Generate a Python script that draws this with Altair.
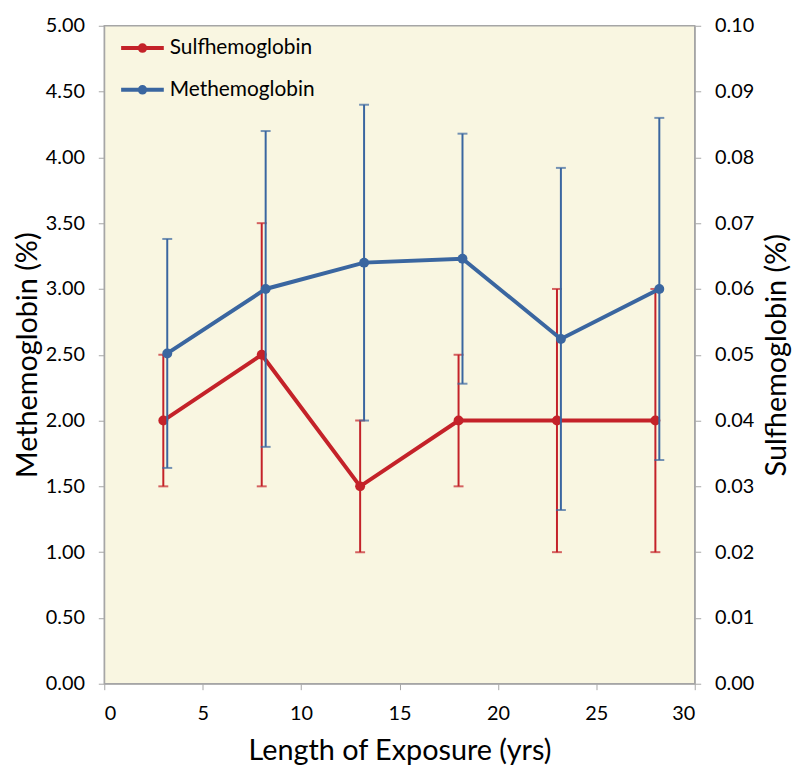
import altair as alt
import pandas as pd

# Data
sulf_x = [3, 8, 13, 18, 23, 28]
sulf_y = [0.04, 0.05, 0.03, 0.04, 0.04, 0.04]
sulf_lo = [0.03, 0.03, 0.02, 0.03, 0.02, 0.02]
sulf_hi = [0.05, 0.07, 0.04, 0.05, 0.06, 0.06]

met_x = [3.2, 8.2, 13.2, 18.2, 23.2, 28.2]
met_y = [2.51, 3.00, 3.20, 3.23, 2.62, 3.00]
met_lo = [1.64, 1.80, 2.00, 2.28, 1.32, 1.70]
met_hi = [3.38, 4.20, 4.40, 4.18, 3.92, 4.30]

series_names = ["Sulfhemoglobin", "Methemoglobin"]
series_colors = ["#C42229", "#3A66A0"]

sulf = pd.DataFrame({"x": sulf_x, "y": sulf_y, "lo": sulf_lo, "hi": sulf_hi,
                     "series": series_names[0]})
met = pd.DataFrame({"x": met_x, "y": met_y, "lo": met_lo, "hi": met_hi,
                    "series": series_names[1]})

FONT = "Lato"
AXIS_GRAY = "#A6A6A6"
LABEL_SIZE = 20
TITLE_SIZE = 29

xscale = alt.Scale(domain=[0, 30], nice=False)
xaxis = alt.Axis(title="Length of Exposure (yrs)", values=list(range(0, 31, 5)),
                 grid=False, titleFontSize=TITLE_SIZE, labelFontSize=LABEL_SIZE,
                 titleFontWeight="normal",
                 labelPadding=14, titlePadding=13, tickSize=6, domainColor=AXIS_GRAY,
                 tickColor=AXIS_GRAY, labelColor="#000000", titleColor="#000000")

legend_path = ("M-1,0L1,0M-0.13,0A0.13,0.13 0 1,1 0.13,0A0.13,0.13 0 1,1 -0.13,0Z")
color = alt.Color("series:N",
                  scale=alt.Scale(domain=series_names, range=series_colors),
                  legend=alt.Legend(title=None, orient="none", legendX=15, legendY=-1,
                                    symbolType=legend_path, symbolSize=1849,
                                    symbolStrokeWidth=4, symbolOpacity=1,
                                    labelFontSize=21,
                                    labelFont=FONT, labelColor="#000000",
                                    rowPadding=7, labelOffset=4))

# Sulfhemoglobin (right axis)
s_yscale = alt.Scale(domain=[0, 0.1], nice=False)
s_yaxis = alt.Axis(title="Sulfhemoglobin (%)", orient="right", format=".2f",
                   values=[i / 100 for i in range(0, 11)], grid=False,
                   titleFontSize=TITLE_SIZE, labelFontSize=LABEL_SIZE,
                   titleFontWeight="normal",
                   titleAngle=270, titleBaseline="top",
                   labelPadding=14, titlePadding=9, tickSize=6,
                   domainColor=AXIS_GRAY, tickColor=AXIS_GRAY,
                   labelColor="#000000", titleColor="#000000")

s_base = alt.Chart(sulf)
s_rule = s_base.mark_rule(strokeWidth=2).encode(
    x=alt.X("x:Q", scale=xscale, axis=xaxis),
    y=alt.Y("lo:Q", scale=s_yscale, axis=s_yaxis),
    y2="hi:Q", color=color)
s_cap_hi = s_base.mark_tick(orient="horizontal", size=10, thickness=2).encode(
    x="x:Q", y=alt.Y("hi:Q", scale=s_yscale), color=color)
s_cap_lo = s_base.mark_tick(orient="horizontal", size=10, thickness=2).encode(
    x="x:Q", y=alt.Y("lo:Q", scale=s_yscale), color=color)
s_line = s_base.mark_line(strokeWidth=4).encode(
    x="x:Q", y=alt.Y("y:Q", scale=s_yscale), color=color)
s_pt = s_base.mark_point(filled=True, size=100, opacity=1).encode(
    x="x:Q", y=alt.Y("y:Q", scale=s_yscale), color=color)
sulf_layer = alt.layer(s_rule, s_cap_hi, s_cap_lo, s_line, s_pt)

# Methemoglobin (left axis)
m_yscale = alt.Scale(domain=[0, 5], nice=False)
m_yaxis = alt.Axis(title="Methemoglobin (%)", orient="left", format=".2f",
                   values=[i / 2 for i in range(0, 11)], grid=False,
                   titleFontSize=TITLE_SIZE, labelFontSize=LABEL_SIZE,
                   titleFontWeight="normal",
                   labelPadding=14, titlePadding=3, tickSize=6,
                   domainColor=AXIS_GRAY, tickColor=AXIS_GRAY,
                   labelColor="#000000", titleColor="#000000")

m_base = alt.Chart(met)
m_rule = m_base.mark_rule(strokeWidth=2).encode(
    x=alt.X("x:Q", scale=xscale, axis=xaxis),
    y=alt.Y("lo:Q", scale=m_yscale, axis=m_yaxis),
    y2="hi:Q", color=color)
m_cap_hi = m_base.mark_tick(orient="horizontal", size=10, thickness=2).encode(
    x="x:Q", y=alt.Y("hi:Q", scale=m_yscale), color=color)
m_cap_lo = m_base.mark_tick(orient="horizontal", size=10, thickness=2).encode(
    x="x:Q", y=alt.Y("lo:Q", scale=m_yscale), color=color)
m_line = m_base.mark_line(strokeWidth=4).encode(
    x="x:Q", y=alt.Y("y:Q", scale=m_yscale), color=color)
m_pt = m_base.mark_point(filled=True, size=100, opacity=1).encode(
    x="x:Q", y=alt.Y("y:Q", scale=m_yscale), color=color)
met_layer = alt.layer(m_rule, m_cap_hi, m_cap_lo, m_line, m_pt)

chart = alt.layer(sulf_layer, met_layer).resolve_scale(
    y="independent"
).properties(
    width=595, height=663, background="#FFFFFF",
    padding={"left": 5, "top": 5, "right": 0, "bottom": 0}
).configure_view(
    fill="#F9F6E1", stroke=AXIS_GRAY, strokeWidth=1.5
).configure_axis(
    labelFont=FONT, titleFont=FONT
).configure_legend(
    labelFont=FONT
)

chart.save("out.html", embed_options={"renderer": "svg", "actions": False})
